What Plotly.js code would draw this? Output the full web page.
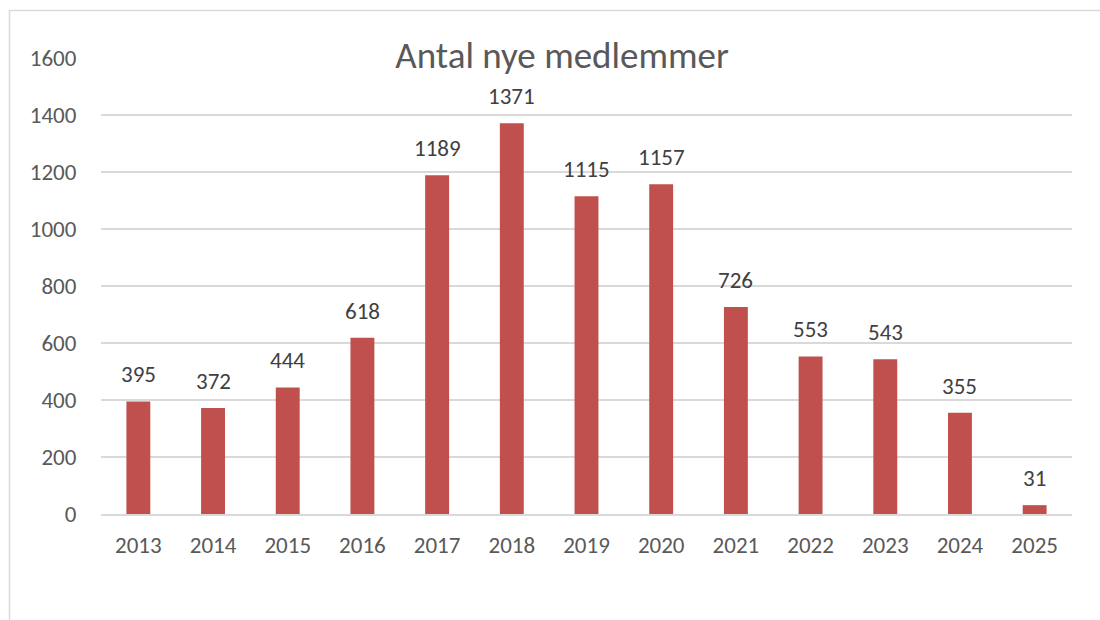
<!DOCTYPE html>
<html>
<head>
<meta charset="utf-8">
<script src="https://cdn.plot.ly/plotly-3.0.1.min.js"></script>
<style>
html,body{margin:0;padding:0;background:#fff;}
#chart{width:1100px;height:620px;}
</style>
</head>
<body>
<div id="chart"></div>
<script>
var years = ["2013","2014","2015","2016","2017","2018","2019","2020","2021","2022","2023","2024","2025"];
var members = [395,372,444,618,1189,1371,1115,1157,726,553,543,355,31];
var yTicks = [0,200,400,600,800,1000,1200,1400,1600];
var titleText = "Antal nye medlemmer";

var FONT = "Carlito, Lato, 'Open Sans', sans-serif";

var trace = {
  type: "bar",
  x: years.map(function(y, i){ return i; }),
  y: members,
  marker: {color: "#c0504d"},
  hoverinfo: "y"
};

var annotations = years.map(function(yr, i){
  return {
    x: i, y: members[i], xref: "x", yref: "y",
    text: String(members[i]),
    showarrow: false,
    yanchor: "bottom",
    yshift: 11,
    font: {family: FONT, size: 23, color: "#404040"}
  };
});

var layout = {
  width: 1100, height: 620,
  margin: {l: 101, r: 28, t: 58, b: 106},
  paper_bgcolor: "#ffffff",
  plot_bgcolor: "#ffffff",
  bargap: 0.68,
  showlegend: false,
  font: {family: FONT, color: "#595959"},
  title: {
    text: titleText,
    font: {family: FONT, size: 37, color: "#595959"},
    x: 0.511, xref: "container", xanchor: "center",
    y: 1 - 55/620, yref: "container", yanchor: "middle"
  },
  xaxis: {
    type: "linear",
    range: [-0.5, years.length - 0.5],
    tickvals: years.map(function(y, i){ return i; }),
    ticktext: years,
    showgrid: false,
    showline: true, linecolor: "#d9d9d9", linewidth: 1.5,
    zeroline: false,
    ticks: "outside", ticklen: 10, tickcolor: "rgba(0,0,0,0)",
    tickfont: {family: FONT, size: 23, color: "#595959"}
  },
  yaxis: {
    range: [0, 1600],
    tickvals: yTicks,
    ticktext: yTicks.map(String),
    showgrid: true, gridcolor: "#d9d9d9", gridwidth: 1.5,
    zeroline: false, showline: false,
    ticks: "outside", ticklen: 19, tickcolor: "rgba(0,0,0,0)",
    tickfont: {family: FONT, size: 23, color: "#595959"}
  },
  annotations: annotations,
  shapes: [{
    type: "rect", xref: "paper", yref: "paper",
    x0: (9.5 - 101)/971, x1: 1.2,
    y0: -0.5, y1: 1 + (58 - 10.5)/456,
    line: {color: "#d9d9d9", width: 1.5},
    fillcolor: "rgba(0,0,0,0)",
    layer: "below"
  }]
};

Plotly.newPlot("chart", [trace], layout, {displayModeBar: false, staticPlot: true});
</script>
</body>
</html>
